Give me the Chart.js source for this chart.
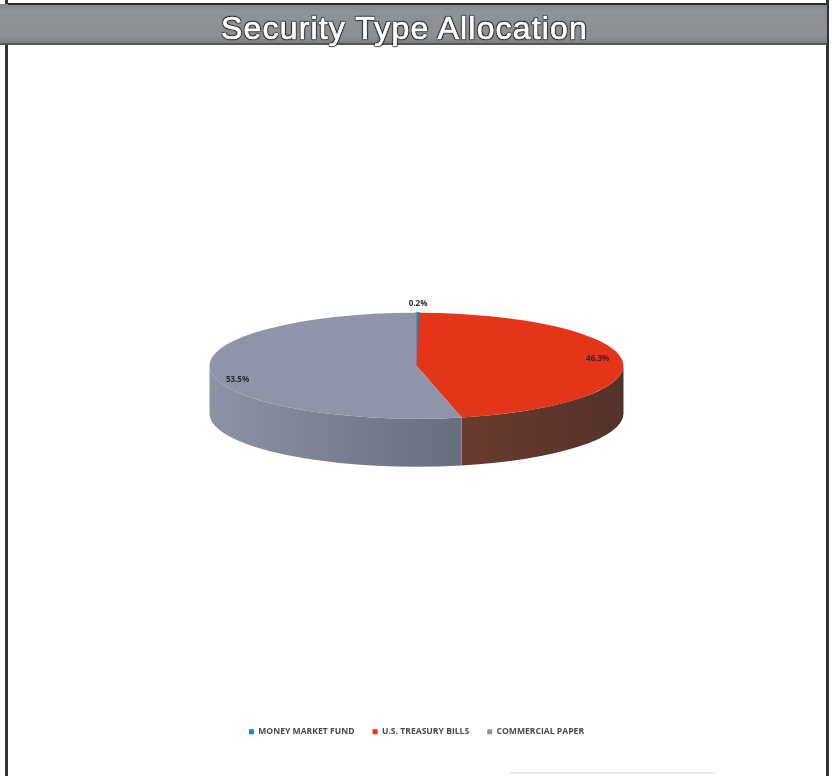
<!DOCTYPE html>
<html>
<head>
<meta charset="utf-8">
<title>Security Type Allocation</title>
<script src="https://cdn.jsdelivr.net/npm/chart.js@4"></script>
<style>
  html, body { margin: 0; padding: 0; background: #fff; }
  #page { position: relative; width: 833px; height: 776px; overflow: hidden; }
  #chart { position: absolute; left: 0; top: 0; }
  #banner {
    position: absolute; left: 0; top: 4px; width: 827px; height: 41px;
    background: linear-gradient(#85888b, #909396 20%, #8c8f92 85%, #7c7e80);
    text-align: center; line-height: 49px; padding-right: 18px; box-sizing: border-box;
    font-family: "Liberation Sans", sans-serif; font-size: 32px; letter-spacing: 1.15px;
    color: #fff; -webkit-text-stroke: 0.7px #fff;
    text-shadow: 1px 1px 1px #222, -1px 1px 1px #222, 1px -1px 1px #222, -1px -1px 1px #222;
    border-bottom: 2px solid #555;
  }
  #topline { position: absolute; left: 8px; top: 3px; width: 819px; height: 2px; background: #2c2c2c; }
  .rule { position: absolute; top: 0; bottom: 0; background: #333; }
  #scanedge { position: absolute; left: 510px; top: 772px; width: 205px; height: 2px; background: #e8e8e8; }
</style>
</head>
<body>
<div id="page">
  <canvas id="chart" width="833" height="776"></canvas>
  <div class="rule" style="left:5px;width:3px"></div>
  <div class="rule" style="left:826px;width:3px"></div>
  <div id="banner">Security Type Allocation</div>
  <div id="topline"></div>
  <div id="scanedge"></div>
</div>
<script>
const categories = ['MONEY MARKET FUND', 'U.S. TREASURY BILLS', 'COMMERCIAL PAPER'];
const allocation = [0.2, 46.3, 53.5];
const valueLabels = ['0.2%', '46.3%', '53.5%'];

const topColors = ['#1b86c4', '#e4341a', '#8f94a8'];
const sideColors = [['#14608c', '#14608c'], ['#6a3a2c', '#54322c'], ['#8d92a4', '#676e80']];

const squash = 0.256;
const depth = 48;

// tilts the pie and adds the wall under the front half
const tiltPlugin = {
  id: 'tilt',
  beforeDatasetsDraw(chart) {
    const ctx = chart.ctx;
    const arcs = chart.getDatasetMeta(0).data;
    ctx.save();
    arcs.forEach(function (arc, i) {
      const rx = arc.outerRadius;
      const ry = rx * squash;
      const start = Math.max(arc.startAngle, 0);
      const end = Math.min(arc.endAngle, Math.PI);
      if (end <= start) return;
      const grad = ctx.createLinearGradient(arc.x + Math.cos(end) * rx, 0, arc.x + Math.cos(start) * rx, 0);
      grad.addColorStop(0, sideColors[i][0]);
      grad.addColorStop(1, sideColors[i][1]);
      ctx.fillStyle = grad;
      ctx.beginPath();
      ctx.ellipse(arc.x, arc.y, rx, ry, 0, start, end);
      ctx.ellipse(arc.x, arc.y + depth, rx, ry, 0, end, start, true);
      ctx.closePath();
      ctx.fill();
    });
    ctx.restore();
    const cx = arcs[0].x;
    const cy = arcs[0].y;
    ctx.save();
    ctx.translate(cx, cy);
    ctx.scale(1, squash);
    ctx.translate(-cx, -cy);
  },
  afterDatasetsDraw(chart) {
    chart.ctx.restore();
    const ctx = chart.ctx;
    const labelReach = [1.17, 0.88, 0.87];
    const labelDrop = [0, -2, 9];
    ctx.save();
    ctx.font = 'bold 8px "Open Sans", sans-serif';
    ctx.fillStyle = '#2b2b33';
    ctx.textAlign = 'center';
    ctx.textBaseline = 'middle';
    chart.getDatasetMeta(0).data.forEach(function (arc, i) {
      const mid = (arc.startAngle + arc.endAngle) / 2;
      const r = arc.outerRadius * labelReach[i];
      const x = arc.x + Math.cos(mid) * r;
      let y = arc.y + Math.sin(mid) * r * squash + labelDrop[i];
      if (i === 0) y = arc.y - arc.outerRadius * squash - 9;
      ctx.fillText(valueLabels[i], x, y);
    });
    ctx.restore();
  },
};

new Chart(document.getElementById('chart'), {
  type: 'pie',
  data: {
    labels: categories,
    datasets: [{
      data: allocation,
      backgroundColor: topColors,
      borderColor: topColors,
      borderWidth: [3, 0, 0],
    }],
  },
  options: {
    responsive: false,
    animation: false,
    radius: 207,
    layout: { padding: { top: 22, bottom: 30 } },
    plugins: {
      tooltip: { enabled: false },
      legend: {
        position: 'bottom',
        labels: {
          boxWidth: 5,
          boxHeight: 5,
          padding: 18,
          color: '#4a4a55',
          font: { family: '"Open Sans", sans-serif', size: 8.6, weight: 'bold' },
          generateLabels(chart) {
            // the thin slice has a border, its legend box should not
            return Chart.overrides.pie.plugins.legend.labels.generateLabels(chart).map(function (item) {
              item.lineWidth = 0;
              return item;
            });
          },
        },
      },
    },
  },
  plugins: [tiltPlugin],
});
</script>
</body>
</html>
